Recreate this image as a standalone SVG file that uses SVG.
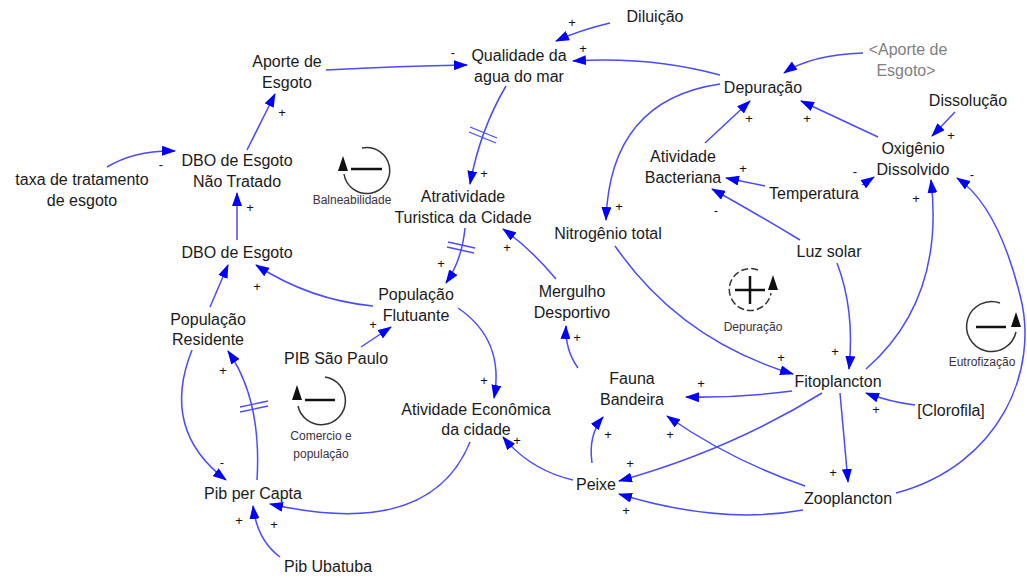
<svg xmlns="http://www.w3.org/2000/svg" width="1027" height="578" viewBox="0 0 1027 578">
<defs>
<marker id="ah" viewBox="0 0 14 10" refX="13" refY="5" markerWidth="14" markerHeight="10" markerUnits="userSpaceOnUse" orient="auto">
<path d="M0,0 L14,5 L0,10 Z" fill="#0000ff"/>
</marker>
<style>
.t{font-family:"Liberation Sans",Arial,sans-serif;font-size:16px;fill:#1a1a1a;text-anchor:middle}
.g{fill:#808080}
.s{font-family:"Liberation Sans",Arial,sans-serif;font-size:13px;fill:#111;text-anchor:middle}
.l{font-family:"Liberation Sans",Arial,sans-serif;font-size:12px;fill:#3a3040;text-anchor:middle}
.c{fill:none;stroke:#4a4aff;stroke-width:1.5;marker-end:url(#ah)}
.d{stroke:#4a4aff;stroke-width:1.3}
.lp{fill:none;stroke:#333;stroke-width:1.5}
.bar{stroke:#111;stroke-width:2.5}
</style>
</defs>
<rect width="1027" height="578" fill="#fff"/>

<g id="connectors">
<path class="c" d="M610,23 Q580,30 556,41"/>
<path class="c" d="M720,75 Q650,56 573,61"/>
<path class="c" d="M326,70 Q400,66 467,65"/>
<path class="c" d="M506,86 Q480,130 470,184"/>
<path class="c" d="M863,53 Q810,55 784,73"/>
<path class="c" d="M705,143 L750,101"/>
<path class="c" d="M878,137 L801,101"/>
<path class="c" d="M955,112 L932,136"/>
<path class="c" d="M720,84 Q610,100 606,220"/>
<path class="c" d="M765,186 L726,178"/>
<path class="c" d="M862,185 L874,177"/>
<path class="c" d="M800,240 Q750,210 712,189"/>
<path class="c" d="M837,263 Q855,310 849,369"/>
<path class="c" d="M615,246 Q680,340 793,374"/>
<path class="c" d="M866,369 Q945,300 931,180"/>
<path class="c" d="M896,493 C1000,465 1040,370 1020,295 C1005,235 985,197 957,178"/>
<path class="c" d="M915,405 Q890,402 866,393"/>
<path class="c" d="M792,391 Q740,398 686,397"/>
<path class="c" d="M840,393 L848,482"/>
<path class="c" d="M822,393 Q730,450 619,481"/>
<path class="c" d="M805,486 Q730,460 667,416"/>
<path class="c" d="M803,510 Q720,525 619,494"/>
<path class="c" d="M592,463 Q588,435 603,417"/>
<path class="c" d="M573,480 Q530,470 503,437"/>
<path class="c" d="M578,368 Q565,350 566,326"/>
<path class="c" d="M556,279 Q530,248 503,229"/>
<path class="c" d="M465,228 Q462,260 446,283"/>
<path class="c" d="M361,347 L391,327"/>
<path class="c" d="M373,306 Q310,300 256,265"/>
<path class="c" d="M458,308 Q505,340 494,398"/>
<path class="c" d="M470,442 Q430,540 270,504"/>
<path class="c" d="M280,557 Q257,540 253,506"/>
<path class="c" d="M192,350 Q160,430 226,480"/>
<path class="c" d="M257,480 Q262,400 228,351"/>
<path class="c" d="M210,307 L228,265"/>
<path class="c" d="M237,240 L237,193"/>
<path class="c" d="M247,150 L275,94"/>
<path class="c" d="M107,167 Q135,150 175,151"/>
<line class="d" x1="470" y1="127" x2="497" y2="138"/>
<line class="d" x1="469" y1="132" x2="496" y2="143"/>
<line class="d" x1="448" y1="242" x2="475" y2="248"/>
<line class="d" x1="447" y1="247" x2="474" y2="253"/>
<line class="d" x1="240" y1="407" x2="268" y2="401"/>
<line class="d" x1="240" y1="412" x2="268" y2="406"/>
</g>

<g id="polarities">
<text class="s" x="572" y="27">+</text>
<text class="s" x="583" y="53">+</text>
<text class="s" x="453" y="57">-</text>
<text class="s" x="484" y="178">+</text>
<text class="s" x="749" y="123">+</text>
<text class="s" x="807" y="123">+</text>
<text class="s" x="951" y="140">+</text>
<text class="s" x="619" y="211">+</text>
<text class="s" x="743" y="173">+</text>
<text class="s" x="855" y="176">-</text>
<text class="s" x="716" y="215">-</text>
<text class="s" x="835" y="356">+</text>
<text class="s" x="781" y="362">+</text>
<text class="s" x="916" y="203">+</text>
<text class="s" x="972" y="179">-</text>
<text class="s" x="876" y="414">+</text>
<text class="s" x="701" y="388">+</text>
<text class="s" x="833" y="477">+</text>
<text class="s" x="630" y="468">+</text>
<text class="s" x="670" y="439">+</text>
<text class="s" x="626" y="515">+</text>
<text class="s" x="608" y="439">+</text>
<text class="s" x="517" y="445">+</text>
<text class="s" x="577" y="342">+</text>
<text class="s" x="507" y="252">+</text>
<text class="s" x="441" y="268">+</text>
<text class="s" x="373" y="329">+</text>
<text class="s" x="257" y="291">+</text>
<text class="s" x="484" y="385">+</text>
<text class="s" x="274" y="529">+</text>
<text class="s" x="239" y="525">+</text>
<text class="s" x="222" y="467">-</text>
<text class="s" x="223" y="375">+</text>
<text class="s" x="250" y="212">+</text>
<text class="s" x="282" y="117">+</text>
<text class="s" x="161" y="169">-</text>
</g>

<g id="n-diluicao"><text class="t" x="655" y="22">Diluição</text></g>
<g id="n-qualidade"><text class="t" x="519" y="61">Qualidade da</text><text class="t" x="519" y="82">agua do mar</text></g>
<g id="n-aporte"><text class="t" x="287" y="67">Aporte de</text><text class="t" x="287" y="88">Esgoto</text></g>
<g id="n-aporte-shadow"><text class="t g" x="908" y="55">&lt;Aporte de</text><text class="t g" x="906" y="76">Esgoto&gt;</text></g>
<g id="n-depuracao"><text class="t" x="763" y="93">Depuração</text></g>
<g id="n-dissolucao"><text class="t" x="968" y="106">Dissolução</text></g>
<g id="n-bacteriana"><text class="t" x="683" y="162">Atividade</text><text class="t" x="683" y="183">Bacteriana</text></g>
<g id="n-oxigenio"><text class="t" x="913" y="154">Oxigênio</text><text class="t" x="913" y="175">Dissolvido</text></g>
<g id="n-temperatura"><text class="t" x="814" y="199">Temperatura</text></g>
<g id="n-nitrogenio"><text class="t" x="608" y="239">Nitrogênio total</text></g>
<g id="n-luz"><text class="t" x="829" y="257">Luz solar</text></g>
<g id="n-dbo-nt"><text class="t" x="237" y="166">DBO de Esgoto</text><text class="t" x="237" y="187">Não Tratado</text></g>
<g id="n-taxa"><text class="t" x="82" y="185">taxa de tratamento</text><text class="t" x="82" y="206">de esgoto</text></g>
<g id="n-atratividade"><text class="t" x="463" y="202">Atratividade</text><text class="t" x="463" y="223">Turistica da Cidade</text></g>
<g id="n-dbo"><text class="t" x="237" y="258">DBO de Esgoto</text></g>
<g id="n-pop-flut"><text class="t" x="416" y="300">População</text><text class="t" x="416" y="321">Flutuante</text></g>
<g id="n-mergulho"><text class="t" x="572" y="297">Mergulho</text><text class="t" x="572" y="318">Desportivo</text></g>
<g id="n-pop-res"><text class="t" x="208" y="325">População</text><text class="t" x="208" y="345">Residente</text></g>
<g id="n-pib-sp"><text class="t" x="336" y="364">PIB São Paulo</text></g>
<g id="n-ativ-eco"><text class="t" x="476" y="415">Atividade Econômica</text><text class="t" x="476" y="435">da cidade</text></g>
<g id="n-fauna"><text class="t" x="632" y="384">Fauna</text><text class="t" x="632" y="405">Bandeira</text></g>
<g id="n-fito"><text class="t" x="838" y="387">Fitoplancton</text></g>
<g id="n-clorofila"><text class="t" x="951" y="416">[Clorofila]</text></g>
<g id="n-peixe"><text class="t" x="596" y="490">Peixe</text></g>
<g id="n-zoo"><text class="t" x="848" y="504">Zooplancton</text></g>
<g id="n-pib-capta"><text class="t" x="253" y="499">Pib per Capta</text></g>
<g id="n-pib-ubatuba"><text class="t" x="328" y="572">Pib Ubatuba</text></g>

<g id="loop-balneabilidade">
<path class="lp" d="M362,148 A23,23 0 1 1 344,174"/>
<path d="M343,156 L348,171 L338,171 Z" fill="#111"/>
<line class="bar" x1="351" y1="169" x2="382" y2="169"/>
<text class="l" x="352" y="204">Balneabilidade</text>
</g>
<g id="loop-comercio">
<path class="lp" d="M325,377 A24,24 0 1 1 298,406"/>
<path d="M297,385 L302,400 L292,400 Z" fill="#111"/>
<line class="bar" x1="305" y1="400" x2="335" y2="400"/>
<text class="l" x="321" y="440">Comercio e</text>
<text class="l" x="321" y="458">população</text>
</g>
<g id="loop-depuracao">
<path class="lp" d="M758,270 A21,21 0 1 0 771,293" stroke-dasharray="7,3"/>
<path d="M773,275 L778,290 L768,290 Z" fill="#111"/>
<line class="bar" x1="735" y1="290" x2="765" y2="290"/>
<line class="bar" x1="750" y1="276" x2="750" y2="304"/>
<text class="l" x="753" y="331">Depuração</text>
</g>
<g id="loop-eutrofizacao">
<path class="lp" d="M1000,303 A25,25 0 1 0 1016,332"/>
<path d="M1016,312 L1021,327 L1011,327 Z" fill="#111"/>
<line class="bar" x1="976" y1="327" x2="1006" y2="327"/>
<text class="l" x="982" y="366">Eutrofização</text>
</g>
</svg>
